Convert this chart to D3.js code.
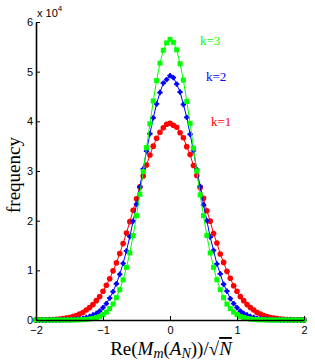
<!DOCTYPE html>
<html>
<head>
<meta charset="utf-8">
<script src="https://cdn.jsdelivr.net/npm/d3@7"></script>
<style>
  body { margin: 0; background: #fff; }
  svg { display: block; }
</style>
</head>
<body>
<div id="chart"></div>
<script>
// sample positions along the x axis
var xs = [-2.00,-1.95,-1.90,-1.85,-1.80,-1.75,-1.70,-1.65,-1.60,-1.55,-1.50,-1.45,-1.40,-1.35,-1.30,-1.25,-1.20,-1.15,-1.10,-1.05,
          -1.00,-0.95,-0.90,-0.85,-0.80,-0.75,-0.70,-0.65,-0.60,-0.55,-0.50,-0.45,-0.40,-0.35,-0.30,-0.25,-0.20,-0.15,-0.10,-0.05,
           0.00, 0.05, 0.10, 0.15, 0.20, 0.25, 0.30, 0.35, 0.40, 0.45, 0.50, 0.55, 0.60, 0.65, 0.70, 0.75, 0.80, 0.85, 0.90, 0.95,
           1.00, 1.05, 1.10, 1.15, 1.20, 1.25, 1.30, 1.35, 1.40, 1.45, 1.50, 1.55, 1.60, 1.65, 1.70, 1.75, 1.80, 1.85, 1.90, 1.95, 2.00];

// frequencies in units of 10^4
var k1 = [0.002,0.003,0.004,0.005,0.008,0.011,0.015,0.02,0.03,0.04,0.05,0.07,0.09,0.12,0.15,0.20,0.25,0.31,0.39,0.47,
          0.58,0.70,0.83,0.99,1.15,1.34,1.54,1.75,1.98,2.21,2.44,2.68,2.90,3.12,3.32,3.50,3.66,3.78,3.87,3.94,
          3.96,3.92,3.88,3.77,3.67,3.49,3.33,3.11,2.91,2.67,2.45,2.20,1.99,1.74,1.55,1.33,1.16,0.98,0.84,0.69,
          0.58,0.47,0.39,0.31,0.25,0.20,0.15,0.12,0.09,0.07,0.05,0.04,0.03,0.02,0.015,0.011,0.008,0.005,0.004,0.003,0.002];
var k2 = [0,0,0,0,0,0,0.001,0.001,0.002,0.004,0.006,0.009,0.014,0.02,0.03,0.05,0.07,0.10,0.13,0.18,
          0.25,0.33,0.44,0.57,0.73,0.92,1.14,1.39,1.68,1.99,2.33,2.68,3.04,3.40,3.75,4.07,4.35,4.58,4.77,4.84,
          4.92,4.88,4.75,4.59,4.34,4.08,3.74,3.41,3.03,2.69,2.32,2.00,1.67,1.40,1.13,0.93,0.72,0.58,0.43,0.33,
          0.25,0.18,0.13,0.10,0.07,0.05,0.03,0.02,0.014,0.009,0.006,0.004,0.002,0.001,0.001,0,0,0,0,0,0];
var k3 = [0,0,0,0,0,0,0,0,0,0,0.001,0.001,0.002,0.004,0.007,0.011,0.02,0.03,0.05,0.07,
          0.11,0.16,0.23,0.32,0.45,0.61,0.81,1.06,1.35,1.70,2.10,2.53,2.99,3.47,3.95,4.41,4.82,5.17,5.43,5.58,
          5.65,5.59,5.44,5.16,4.83,4.40,3.96,3.46,3.00,2.52,2.10,1.70,1.35,1.06,0.81,0.61,0.45,0.32,0.23,0.16,
          0.11,0.07,0.05,0.03,0.02,0.011,0.007,0.004,0.002,0.001,0.001,0,0,0,0,0,0,0,0,0,0];

var xTicks = [-2, -1, 0, 1, 2];
var yTicks = [0, 1, 2, 3, 4, 5, 6];
var seriesNames = ["k=1", "k=2", "k=3"];
var seriesColors = ["#ff0000", "#0000ff", "#00ff00"];

var margin = {top: 22, right: 11, bottom: 40, left: 36};
var width = 315 - margin.left - margin.right;
var height = 360 - margin.top - margin.bottom;

var x = d3.scaleLinear().domain([-2, 2]).range([0, width]);
var y = d3.scaleLinear().domain([0, 6]).range([height, 0]);

var svg = d3.select("#chart").append("svg")
    .attr("width", 315)
    .attr("height", 360)
    .append("g")
    .attr("transform", "translate(" + margin.left + "," + margin.top + ")");

var line = d3.line()
    .x(function(d) { return x(d[0]); })
    .y(function(d) { return y(d[1]); });

var allSeries = [k1, k2, k3];

allSeries.forEach(function(vals, i) {
    var pts = xs.map(function(v, j) { return [v, vals[j]]; });
    var col = seriesColors[i];
    var g = svg.append("g");

    g.append("path")
        .datum(pts)
        .attr("fill", "none")
        .attr("stroke", col)
        .attr("stroke-width", 1)
        .attr("d", line);

    if (i === 0) {
        g.selectAll("circle").data(pts).enter().append("circle")
            .attr("cx", function(d) { return x(d[0]); })
            .attr("cy", function(d) { return y(d[1]); })
            .attr("r", 2.8)
            .attr("fill", col);
    } else if (i === 1) {
        g.selectAll("circle").data(pts).enter().append("circle")
            .attr("cx", function(d) { return x(d[0]); })
            .attr("cy", function(d) { return y(d[1]); })
            .attr("r", 2)
            .attr("fill", col);
        g.selectAll("path.star").data(pts).enter().append("path")
            .attr("class", "star")
            .attr("transform", function(d) { return "translate(" + x(d[0]) + "," + y(d[1]) + ")"; })
            .attr("d", d3.symbol().type(d3.symbolCross).size(16))
            .attr("fill", col);
    } else {
        g.selectAll("rect").data(pts).enter().append("rect")
            .attr("x", function(d) { return x(d[0]) - 2.5; })
            .attr("y", function(d) { return y(d[1]) - 2.5; })
            .attr("width", 5)
            .attr("height", 5)
            .attr("fill", col);
    }
});

// axes, ticks pointing inward like matlab
var xAxis = svg.append("g")
    .attr("transform", "translate(0," + height + ")")
    .call(d3.axisBottom(x).tickValues(xTicks).tickSizeInner(-4).tickSizeOuter(0).tickPadding(6)
        .tickFormat(function(d) { return d < 0 ? "\u2212" + Math.abs(d) : d; }));

var yAxis = svg.append("g")
    .call(d3.axisLeft(y).tickValues(yTicks).tickSizeInner(-4).tickSizeOuter(0).tickPadding(3)
        .tickFormat(d3.format("d")));

[xAxis, yAxis].forEach(function(a) {
    a.select(".domain").attr("stroke", "#000").attr("stroke-width", 1.6);
    a.selectAll(".tick line").attr("stroke", "#000").attr("stroke-width", 1);
    a.selectAll("text")
        .attr("fill", "#000")
        .style("font-family", "Liberation Sans, Arial, sans-serif")
        .style("font-size", "11px");
});

// exponent label
var expo = svg.append("text")
    .attr("x", 1)
    .attr("y", -5)
    .style("font-family", "Liberation Sans, Arial, sans-serif")
    .style("font-size", "11px");
expo.append("tspan").text("x 10");
expo.append("tspan").attr("dy", -6).style("font-size", "8px").text("4");

// series labels
var labelPos = [[175, 104], [170, 59], [164, 23]];
seriesNames.forEach(function(name, i) {
    svg.append("text")
        .attr("x", labelPos[i][0])
        .attr("y", labelPos[i][1])
        .attr("fill", seriesColors[i])
        .style("font-family", "Liberation Serif, Times New Roman, serif")
        .style("font-size", "13px")
        .text(name);
});

// y label
svg.append("text")
    .attr("transform", "rotate(-90)")
    .attr("x", -height / 2 - 4)
    .attr("y", -16)
    .attr("text-anchor", "middle")
    .style("font-family", "Liberation Serif, Times New Roman, serif")
    .style("font-size", "19px")
    .text("frequency");

// x label  Re(M_m(A_N))/sqrt(N)
var xl = svg.append("text")
    .attr("x", width / 2 + 1)
    .attr("y", height + 35)
    .attr("text-anchor", "middle")
    .style("font-family", "Liberation Serif, Times New Roman, serif")
    .style("font-size", "19px");
xl.append("tspan").text("Re(");
xl.append("tspan").style("font-style", "italic").text("M");
xl.append("tspan").attr("dy", 3).style("font-style", "italic").style("font-size", "14px").text("m");
xl.append("tspan").attr("dy", -3).text("(");
xl.append("tspan").style("font-style", "italic").text("A");
xl.append("tspan").attr("dy", 3).style("font-style", "italic").style("font-size", "14px").text("N");
xl.append("tspan").attr("dy", -3).text("))/\u221A");
xl.append("tspan").style("font-style", "italic").style("text-decoration", "overline").text("N");
</script>
</body>
</html>
